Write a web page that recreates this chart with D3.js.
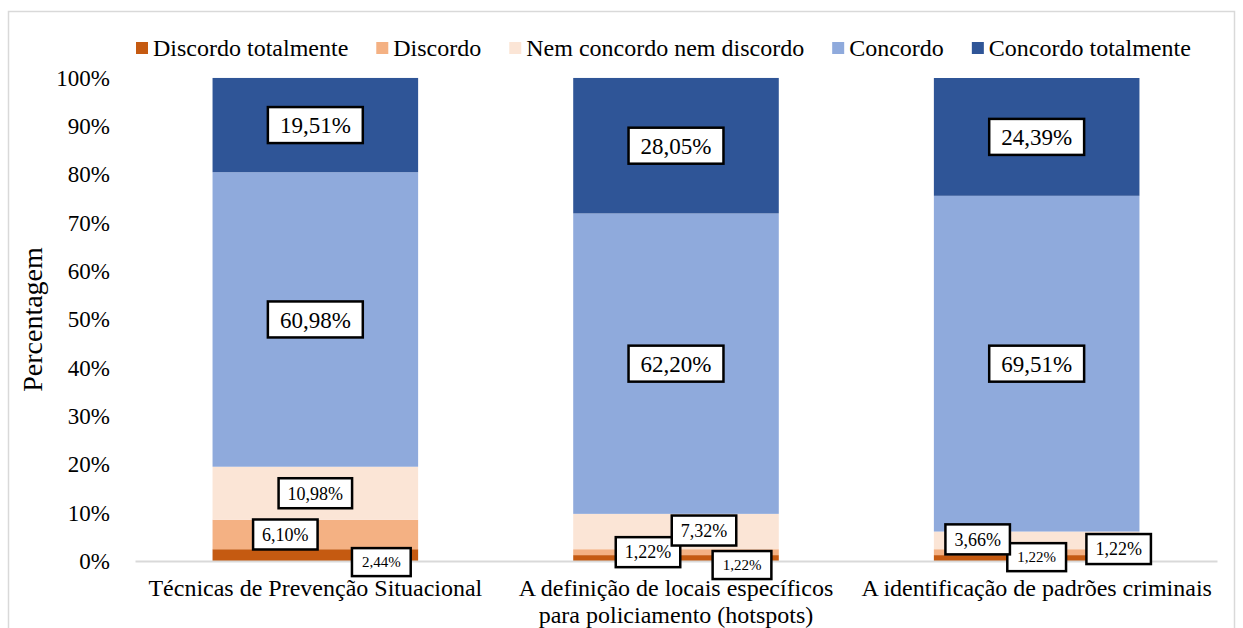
<!DOCTYPE html>
<html>
<head>
<meta charset="utf-8">
<script src="https://cdn.jsdelivr.net/npm/d3@7"></script>
<style>
body { margin: 0; background: #fff; }
text { font-family: "Liberation Serif", "Times New Roman", serif; fill: #000; }
</style>
</head>
<body>
<div id="graph"></div>
<script>
var categories = ["Técnicas de Prevenção Situacional",
                  "A definição de locais específicos para policiamento (hotspots)",
                  "A identificação de padrões criminais"];
var seriesNames = ["Discordo totalmente", "Discordo", "Nem concordo nem discordo", "Concordo", "Concordo totalmente"];
var discordoTotalmente = [2.44, 1.22, 1.22];
var discordo = [6.10, 1.22, 1.22];
var nemConcordo = [10.98, 7.32, 3.66];
var concordo = [60.98, 62.20, 69.51];
var concordoTotalmente = [19.51, 28.05, 24.39];
var yTicks = [0, 10, 20, 30, 40, 50, 60, 70, 80, 90, 100];

var colors = ["#c55a11", "#f4b183", "#fbe5d6", "#8faadc", "#2f5597"];
// label nudges (dx, dy, size class) per series, per category, as moved in the original
var labelPlace = [
    [[66, 7, "s"], [66, 7, "s"], [82, -9, "m"]],
    [[-30, 0, "m"], [-28, 0, "m"], [0, 5, "s"]],
    [[0, 0, "m"], [28, -1, "m"], [-59, -1, "m"]],
    [[0, 0, "b"], [0, 0, "b"], [0, 0, "b"]],
    [[0, 0, "b"], [0, 0, "b"], [0, 0, "b"]]
];
var labelStyle = {
    b: {size: 23, padX: 12, h: 36},
    m: {size: 18, padX: 9, h: 30},
    s: {size: 15, padX: 10, h: 28}
};

var W = 1243, H = 628;
var margin = {left: 135, right: 26, top: 78, bottom: 67};

var svg = d3.select("#graph").append("svg")
    .attr("width", W).attr("height", H);

// outer chart border
svg.append("rect")
    .attr("x", 8.5).attr("y", 11.5)
    .attr("width", 1226).attr("height", 640)
    .attr("fill", "none").attr("stroke", "#d9d9d9").attr("stroke-width", 1.5);

var rows = categories.map(function(c, i) {
    return {cat: c, s0: discordoTotalmente[i], s1: discordo[i], s2: nemConcordo[i], s3: concordo[i], s4: concordoTotalmente[i]};
});
var keys = ["s0", "s1", "s2", "s3", "s4"];
var stacked = d3.stack().keys(keys)(rows);

var x = d3.scaleBand()
    .domain(categories)
    .range([margin.left, W - margin.right])
    .paddingInner(0.43)
    .paddingOuter(0.215);

var y = d3.scaleLinear()
    .domain([0, 100])
    .range([H - margin.bottom, margin.top]);

// y axis (labels only)
var yAxis = svg.append("g")
    .attr("transform", "translate(" + margin.left + ",0)")
    .call(d3.axisLeft(y).tickValues(yTicks).tickSize(0).tickPadding(25)
        .tickFormat(function(d) { return d + "%"; }));
yAxis.select(".domain").remove();
yAxis.selectAll("text").style("font-size", "23px")
    .style("font-family", "'Liberation Serif', 'Times New Roman', serif");

svg.append("text")
    .attr("transform", "translate(42," + y(50) + ") rotate(-90)")
    .attr("text-anchor", "middle")
    .style("font-size", "28px")
    .text("Percentagem");

// bars
var groups = svg.selectAll("g.series")
    .data(stacked)
    .enter().append("g")
    .attr("class", "series")
    .attr("fill", function(d, i) { return colors[i]; });

groups.selectAll("rect")
    .data(function(d) { return d; })
    .enter().append("rect")
    .attr("x", function(d) { return x(d.data.cat); })
    .attr("y", function(d) { return y(d[1]); })
    .attr("width", x.bandwidth())
    .attr("height", function(d) { return y(d[0]) - y(d[1]); });

// x axis baseline + category labels
var xAxis = svg.append("g")
    .attr("transform", "translate(0," + y(0) + ")")
    .call(d3.axisBottom(x).tickSize(0).tickPadding(18));
xAxis.select(".domain").attr("stroke", "#d9d9d9").attr("stroke-width", 2);
xAxis.selectAll("text")
    .style("font-size", "24px")
    .style("font-family", "'Liberation Serif', 'Times New Roman', serif")
    .call(wrap, x.step());

function wrap(sel, width) {
    sel.each(function() {
        var t = d3.select(this);
        var words = t.text().split(/\s+/);
        var yy = t.attr("y"), dy = parseFloat(t.attr("dy"));
        t.text(null);
        var line = [], n = 0;
        var ts = t.append("tspan").attr("x", 0).attr("y", yy).attr("dy", dy + "em");
        words.forEach(function(w) {
            line.push(w);
            ts.text(line.join(" "));
            if (ts.node().getComputedTextLength() > width - 6 && line.length > 1) {
                line.pop();
                ts.text(line.join(" "));
                line = [w];
                n++;
                ts = t.append("tspan").attr("x", 0).attr("y", yy)
                    .attr("dy", (n * 1.12 + dy) + "em").text(w);
            }
        });
    });
}

// data labels
function fmt(v) { return v.toFixed(2).replace(".", ",") + "%"; }

stacked.forEach(function(s, si) {
    s.forEach(function(d, ci) {
        var p = labelPlace[si][ci];
        var st = labelStyle[p[2]];
        var cx = x(d.data.cat) + x.bandwidth() / 2 + p[0];
        var cy = y((d[0] + d[1]) / 2) + p[1];
        var g = svg.append("g").attr("transform", "translate(" + cx + "," + cy + ")");
        var box = g.append("rect").attr("fill", "#fff").attr("stroke", "#000").attr("stroke-width", 2.5);
        var t = g.append("text")
            .attr("text-anchor", "middle")
            .attr("dy", "0.35em")
            .style("font-size", st.size + "px")
            .text(fmt(d.data[keys[si]]));
        var w = t.node().getComputedTextLength() + 2 * st.padX;
        box.attr("x", -w / 2).attr("y", -st.h / 2).attr("width", w).attr("height", st.h);
    });
});

// legend
var legend = svg.append("g").attr("transform", "translate(136,48)");
var lx = 0;
seriesNames.forEach(function(name, i) {
    var item = legend.append("g").attr("transform", "translate(" + lx + ",0)");
    item.append("rect").attr("x", 0).attr("y", -6).attr("width", 12).attr("height", 12)
        .attr("fill", colors[i]);
    var t = item.append("text").attr("x", 17).attr("dy", "0.35em")
        .style("font-size", "24px").text(name);
    lx += 17 + t.node().getComputedTextLength() + 28;
});
</script>
</body>
</html>
